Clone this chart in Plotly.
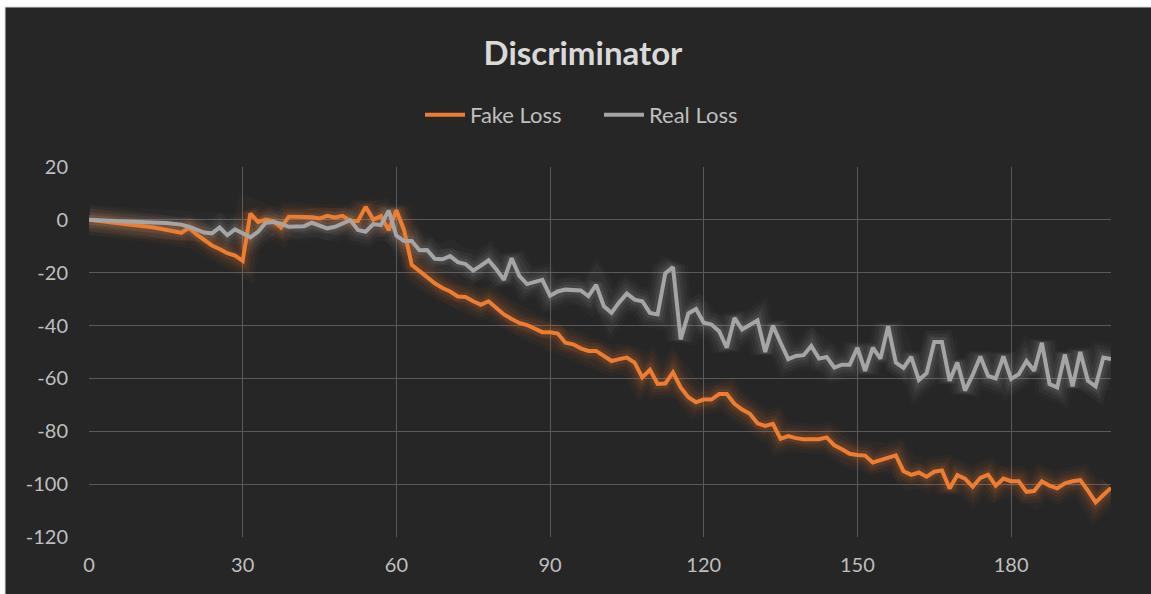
import plotly.graph_objects as go

# epochs (x positions of the logged points)
epochs = [i * 1.5 for i in range(134)]

fake_loss = [
    0, -0.3, -0.7, -1.0, -1.3, -1.6, -2.0, -2.3, -2.7, -3.2,
    -3.9, -4.3, -4.9, -3.0, -5.5, -7.5, -9.7, -11.0, -12.6, -13.5,
    -15.5, 2.4, -0.8, 0.1, -0.5, -2.9, 1.2, 1.2, 1.2, 1.0,
    0.5, 1.5, 0.9, 1.5, -0.4, -0.4, 4.9, 0.1, 1.4, -3.9,
    3.6, -3.9, -17.0, -19.5, -22.0, -24.0, -25.8, -27.1, -29.0, -29.2,
    -30.8, -32.1, -30.8, -33.3, -35.8, -37.5, -39.0, -39.8, -41.1, -42.5,
    -42.5, -43.0, -46.5, -47.1, -48.6, -49.6, -49.6, -51.5, -53.4, -52.7,
    -52.1, -54.0, -59.6, -56.7, -62.1, -61.9, -57.7, -63.4, -67.1, -69.0,
    -68.0, -68.0, -65.9, -65.9, -69.6, -71.8, -73.4, -77.0, -78.0, -77.2,
    -82.8, -81.8, -82.6, -83.0, -83.1, -83.0, -82.3, -85.3, -86.8, -88.5,
    -89.0, -89.2, -91.8, -90.9, -90.1, -89.1, -95.1, -96.5, -95.6, -97.2,
    -95.3, -94.8, -101.6, -96.6, -97.9, -101.0, -97.6, -96.4, -100.6, -97.9,
    -98.9, -98.9, -102.9, -102.6, -98.9, -100.6, -101.6, -99.7, -98.9, -98.5,
    -102.5, -106.9, -104.1, -101.4,
]

real_loss = [
    0, -0.2, -0.3, -0.4, -0.5, -0.6, -0.8, -0.9, -1.0, -1.1,
    -1.2, -1.5, -1.8, -2.6, -3.8, -4.8, -5.1, -2.9, -5.8, -3.6,
    -5.1, -6.6, -4.5, -1.1, -0.8, -1.4, -2.6, -2.6, -2.4, -1.1,
    -2.0, -3.2, -2.6, -1.4, -0.1, -3.8, -4.5, -1.6, -2.0, 3.5,
    -6.0, -8.0, -8.0, -11.5, -11.4, -14.7, -14.9, -13.7, -16.0, -16.7,
    -19.2, -17.3, -15.3, -18.7, -22.7, -14.5, -21.2, -24.3, -23.3, -22.7,
    -28.7, -27.1, -26.4, -26.4, -26.7, -28.9, -24.6, -32.7, -35.2, -31.2,
    -27.9, -30.2, -30.8, -35.2, -35.8, -20.2, -17.9, -45.2, -35.4, -33.7,
    -38.9, -39.6, -42.1, -48.4, -37.1, -41.5, -39.6, -38.0, -50.0, -40.0,
    -46.5, -52.7, -51.5, -51.2, -47.7, -52.5, -51.9, -55.9, -54.8, -54.8,
    -48.4, -57.1, -48.4, -52.5, -40.2, -54.0, -56.0, -51.8, -60.6, -58.0,
    -46.2, -46.2, -60.9, -54.0, -64.6, -58.7, -51.7, -59.0, -60.0, -51.7,
    -60.2, -58.4, -53.4, -57.1, -46.5, -62.1, -63.4, -50.9, -63.0, -50.0,
    -60.9, -63.0, -52.1, -52.7,
]

x_ticks = [0, 30, 60, 90, 120, 150, 180]
y_ticks = [20, 0, -20, -40, -60, -80, -100, -120]

ORANGE = "#ED7D31"
GRAY = "#A5A5A5"
BG = "#262626"
FONT = "Lato"

fig = go.Figure()

# soft glow under the lines
for series, rgb in ((real_loss, "165,165,165"), (fake_loss, "237,125,49")):
    for width, alpha in ((30, 0.04), (23, 0.06), (16, 0.08), (10, 0.12)):
        fig.add_trace(go.Scatter(x=epochs, y=series, mode="lines", showlegend=False,
                                 hoverinfo="skip",
                                 line=dict(color=f"rgba({rgb},{alpha})", width=width)))

fig.add_trace(go.Scatter(x=epochs, y=fake_loss, mode="lines", name="Fake Loss",
                         line=dict(color=ORANGE, width=4)))
fig.add_trace(go.Scatter(x=epochs, y=real_loss, mode="lines", name="Real Loss",
                         line=dict(color=GRAY, width=4)))

# chart area background (leaves thin white strip at top/left like the reference)
W, H = 1151, 594
L, R, T, B = 89, 1111, 167, 537
def px2paper_x(px):
    return (px - L) / (R - L)
def px2paper_y(py):
    return (B - py) / (B - T)

fig.add_shape(type="rect", xref="paper", yref="paper", layer="below",
              x0=px2paper_x(5), x1=px2paper_x(W + 2),
              y0=px2paper_y(H + 2), y1=px2paper_y(7),
              fillcolor=BG, line=dict(color="#d9d9d9", width=1))

fig.update_layout(
    width=W, height=H,
    margin=dict(l=L, r=W - R, t=T, b=H - B, pad=0),
    paper_bgcolor="white",
    plot_bgcolor=BG,
    font=dict(family=FONT, color="#bfbfbf"),
    title=dict(text="<b>Discriminator</b>", x=583 / W, xref="container",
               xanchor="center", y=1 - 53 / H, yref="container", yanchor="middle",
               font=dict(family=FONT, size=33, color="#d9d9d9")),
    legend=dict(orientation="h", x=px2paper_x(420), xanchor="left",
                y=px2paper_y(115), yanchor="middle",
                font=dict(family=FONT, size=22, color="#bfbfbf"),
                bgcolor="rgba(0,0,0,0)", itemwidth=40, tracegroupgap=0,
                entrywidth=124),
    xaxis=dict(range=[0, epochs[-1]], tickvals=x_ticks, ticktext=[str(v) for v in x_ticks],
               showgrid=True, gridcolor="#595959", gridwidth=1.3,
               zeroline=False, showline=False, ticks="",
               tickfont=dict(family=FONT, size=20, color="#bfbfbf"),
               ticklabelstandoff=14),
    yaxis=dict(range=[-120, 20], tickvals=y_ticks, ticktext=[str(v) for v in y_ticks],
               showgrid=True, gridcolor="#595959", gridwidth=1.3,
               zeroline=False, showline=False, ticks="",
               tickfont=dict(family=FONT, size=20, color="#bfbfbf"),
               ticklabelstandoff=20),
)

fig.write_html("out.html", config={"displayModeBar": False},
               post_script="document.body.style.margin='0';document.body.style.padding='0';")
